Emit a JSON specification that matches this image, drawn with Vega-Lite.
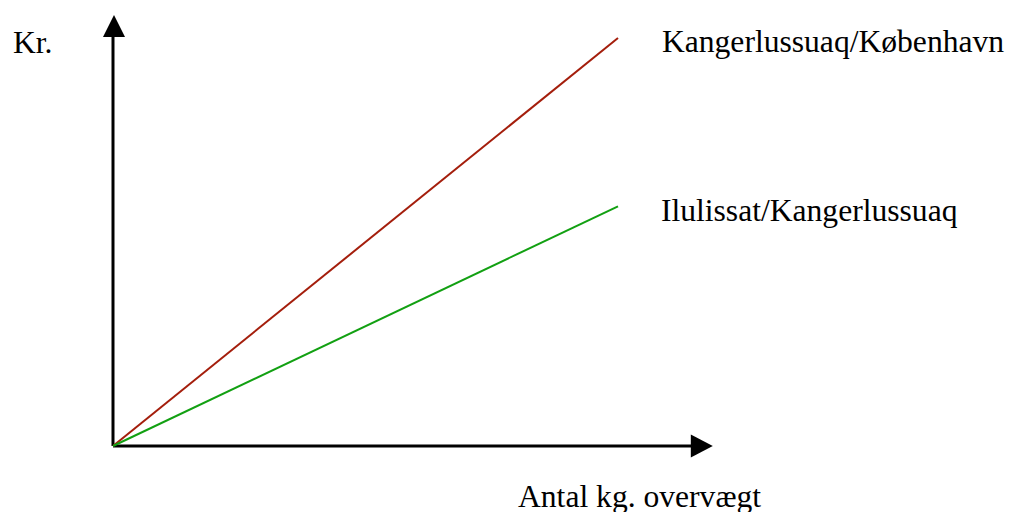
{
  "$schema": "https://vega.github.io/schema/vega-lite/v6.json",
  "width": 1009,
  "height": 512,
  "autosize": {"type": "none"},
  "padding": 0,
  "background": "white",
  "config": {"view": {"stroke": null}},
  "datasets": {
    "routes": [
      {"route": "Kangerlussuaq/København", "kg": 0, "kr": 0},
      {"route": "Kangerlussuaq/København", "kg": 10, "kr": 8.0},
      {"route": "Ilulissat/Kangerlussuaq", "kg": 0, "kr": 0},
      {"route": "Ilulissat/Kangerlussuaq", "kg": 10, "kr": 4.7}
    ],
    "axes": [
      {"axis": "x", "kg": 0, "kr": 0, "kg2": 11.45, "kr2": 0},
      {"axis": "y", "kg": 0, "kr": 0, "kg2": 0, "kr2": 8.02}
    ],
    "arrows": [
      {"axis": "x", "kg": 11.66, "kr": 0, "shape": "M-1,-1.05L1,0L-1,1.05Z"},
      {"axis": "y", "kg": 0.02, "kr": 8.235, "shape": "M-1,1L0,-1L1,1Z"}
    ],
    "labels": [
      {"text": "Kr.", "kg": -1.98, "kr": 7.7},
      {"text": "Kangerlussuaq/København", "kg": 10.87, "kr": 7.725},
      {"text": "Ilulissat/Kangerlussuaq", "kg": 10.85, "kr": 4.41},
      {"text": "Antal kg. overvægt", "kg": 8.02, "kr": -1.196}
    ]
  },
  "layer": [
    {
      "data": {"name": "axes"},
      "mark": {"type": "rule", "stroke": "black", "strokeWidth": 3},
      "encoding": {
        "x": {"field": "kg", "type": "quantitative", "scale": {"domain": [-2.2376, 17.743], "nice": false, "zero": false}, "axis": null},
        "y": {"field": "kr", "type": "quantitative", "scale": {"domain": [-1.294, 8.745], "nice": false, "zero": false}, "axis": null},
        "x2": {"field": "kg2"},
        "y2": {"field": "kr2"}
      }
    },
    {
      "data": {"name": "arrows"},
      "mark": {"type": "point", "filled": true, "color": "black", "opacity": 1, "size": 484, "strokeWidth": 0},
      "encoding": {
        "x": {"field": "kg", "type": "quantitative"},
        "y": {"field": "kr", "type": "quantitative"},
        "shape": {"field": "shape", "type": "nominal", "scale": null}
      }
    },
    {
      "data": {"name": "routes"},
      "mark": {"type": "line", "strokeWidth": 2},
      "encoding": {
        "x": {"field": "kg", "type": "quantitative"},
        "y": {"field": "kr", "type": "quantitative"},
        "color": {"field": "route", "type": "nominal", "scale": {"domain": ["Kangerlussuaq/København", "Ilulissat/Kangerlussuaq"], "range": ["#a41e0c", "#12a012"]}, "legend": null}
      }
    },
    {
      "data": {"name": "labels"},
      "mark": {"type": "text", "align": "left", "baseline": "alphabetic", "font": "Liberation Serif", "fontSize": 31.6, "color": "black"},
      "encoding": {
        "x": {"field": "kg", "type": "quantitative"},
        "y": {"field": "kr", "type": "quantitative"},
        "text": {"field": "text"}
      }
    }
  ]
}
